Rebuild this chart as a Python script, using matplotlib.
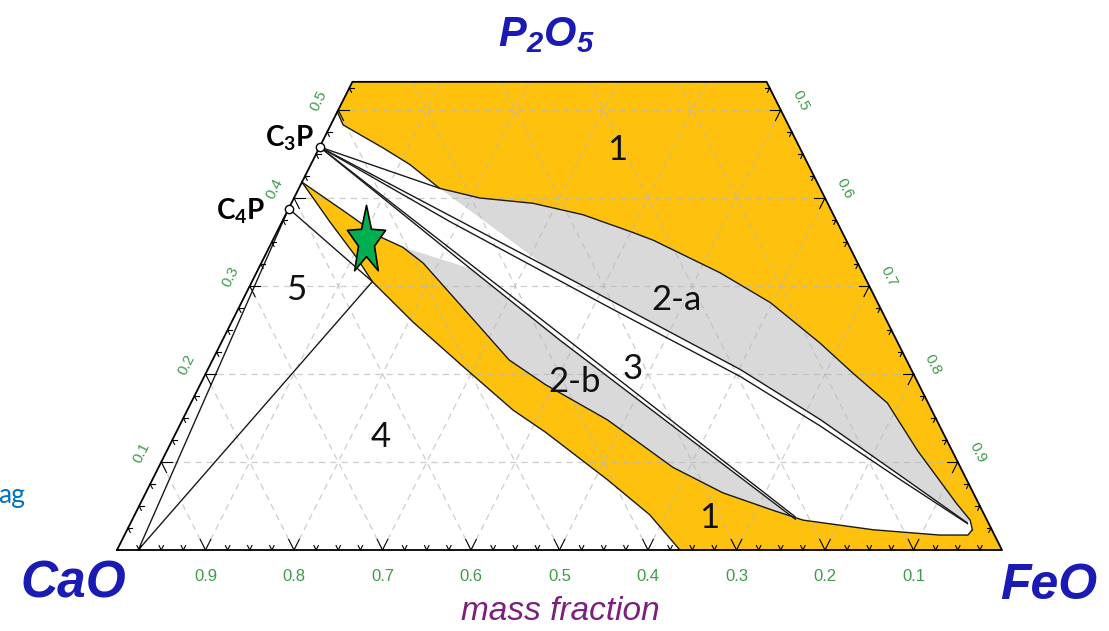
import numpy as np
import matplotlib.pyplot as plt
from matplotlib.path import Path

plt.rcParams['mathtext.fontset'] = 'custom'
plt.rcParams['mathtext.bf'] = 'Lato:bold'
plt.rcParams['mathtext.bfit'] = 'Liberation Sans:italic:bold'

# compositions as mass fractions (FeO, P2O5); CaO = 1 - FeO - P2O5
p2o5_top = 0.532

c3p = (0.0, 0.458)
c4p = (0.0, 0.388)
cao_ss = (0.024, 0.0)
k_point = (0.136, 0.305)
star_pt = (0.106, 0.351)

# liquid (region 1) boundary, upper part
liq_upper = [(0.0, 0.498), (0.014, 0.483), (0.072, 0.457), (0.112, 0.438), (0.159, 0.411),
             (0.210, 0.400), (0.273, 0.394), (0.336, 0.381), (0.402, 0.361), (0.430, 0.352),
             (0.524, 0.315), (0.598, 0.281), (0.677, 0.235), (0.731, 0.201), (0.787, 0.167),
             (0.848, 0.113), (0.922, 0.053), (0.947, 0.034), (0.955, 0.023)]
# liquid boundary, lower part (from the tip back to the CaO-P2O5 side)
liq_lower = [(0.955, 0.023), (0.953, 0.017), (0.921, 0.017), (0.843, 0.023), (0.758, 0.034),
             (0.719, 0.045), (0.652, 0.065), (0.581, 0.094), (0.480, 0.148), (0.390, 0.188),
             (0.335, 0.216), (0.284, 0.253), (0.183, 0.326), (0.151, 0.344), (0.119, 0.356),
             (0.068, 0.383), (0.0, 0.418)]
# lower edge of the liquid band towards regions 4 / 5
band_lower = [(0.0, 0.418), (0.054, 0.373), (0.105, 0.332), (0.136, 0.305), (0.205, 0.259),
              (0.286, 0.209), (0.368, 0.159), (0.417, 0.134), (0.514, 0.080), (0.582, 0.040),
              (0.636, 0.0)]

# lines fanning out from C3P
tie_1 = [c3p, (0.159, 0.411)]
tie_2 = [c3p, (0.322, 0.323), (0.415, 0.284), (0.602, 0.205), (0.721, 0.148), (0.842, 0.085),
         (0.945, 0.031)]
tie_3 = [c3p, (0.190, 0.373), (0.420, 0.275), (0.606, 0.197), (0.724, 0.141), (0.845, 0.080),
         (0.946, 0.030)]
tie_4 = [c3p, (0.747, 0.038)]
tie_5 = [c3p, (0.239, 0.320), (0.382, 0.238), (0.749, 0.035)]

gray_a_left = [(0.159, 0.411), (0.237, 0.369), (0.322, 0.323)]
gray_b_left = [(0.151, 0.344), (0.239, 0.320)]

ticks_major = [0.1, 0.2, 0.3, 0.4, 0.5, 0.6, 0.7, 0.8, 0.9]

region_labels = [('1', 0.338, 0.455), ('1', 0.651, 0.036), ('2-a', 0.490, 0.284),
                 ('3', 0.480, 0.206), ('2-b', 0.422, 0.191), ('4', 0.234, 0.128),
                 ('5', 0.055, 0.295)]

yellow = '#FEC20E'
gray = '#D9D9D9'
green = '#3F9B4B'
blue = '#1A1AB4'


def xy(points):
    a = np.array(points, float)
    return a[:, 0] + a[:, 1] / 2, a[:, 1]


fig = plt.figure(figsize=(11.09, 6.31), dpi=100)
ax = fig.add_axes([0, 0, 1, 1])
ax.set_xlim(-117 / 885, 992 / 885)
ax.set_ylim(-81 / 880, 550 / 880)
ax.axis('off')

outline = [(0, 0), (1, 0), (1 - p2o5_top, p2o5_top), (0, p2o5_top), (0, 0)]
ax.fill(*xy(outline), color=yellow, lw=0, zorder=1)

left_region = [(0, 0)] + band_lower
ax.fill(*xy(left_region), color='white', lw=0, zorder=2)
central = liq_upper + liq_lower[1:]
ax.fill(*xy(central), color='white', lw=0, zorder=2)

i0 = liq_upper.index((0.159, 0.411))
gray_a = liq_upper[i0:-1] + tie_2[::-1][:-2] + gray_a_left[::-1]
ax.fill(*xy(gray_a), color=gray, lw=0, zorder=3)
j0 = liq_lower.index((0.719, 0.045))
j1 = liq_lower.index((0.151, 0.344))
gray_b = gray_b_left + tie_5[2:] + liq_lower[j0:j1 + 1]
ax.fill(*xy(gray_b), color=gray, lw=0, zorder=3)

# dashed grid
grid_kw = dict(color='#B8B8B8', lw=0.9, ls=(0, (5, 4)), alpha=0.7, zorder=4)
for v in ticks_major:
    if v < p2o5_top:
        ax.plot(*xy([(0, v), (1 - v, v)]), **grid_kw)
    top = min(1 - v, p2o5_top)
    ax.plot(*xy([(v, 0), (v, top)]), **grid_kw)
    s = 1 - v
    top = min(s, p2o5_top)
    ax.plot(*xy([(s, 0), (s - top, top)]), **grid_kw)

# phase boundaries
line_kw = dict(color='#1a1a1a', lw=1.0, zorder=5)
for seg in [liq_upper, liq_lower, band_lower, tie_1, tie_2, tie_3, tie_4, tie_5,
            [c4p, cao_ss], [c4p, k_point], [k_point, cao_ss]]:
    ax.plot(*xy(seg), **line_kw)

ax.plot(*xy(outline), color='k', lw=1.3, zorder=6)

# ticks along the three sides
tick_kw = dict(color='k', lw=0.8, zorder=6)
for k in range(1, 40):
    v = k * 0.025
    L = 0.012 if k % 4 == 0 else 0.005
    for d in [(0, 1), (-1, 1)]:
        ax.plot(*xy([(v, 0), (v + d[0] * L, d[1] * L)]), **tick_kw)
for k in range(1, 22):
    p = k * 0.025
    L = 0.012 if k % 4 == 0 else 0.005
    for d in [(1, 0), (1, -1)]:
        ax.plot(*xy([(0, p), (d[0] * L, p + d[1] * L)]), **tick_kw)
    for d in [(-1, 0), (0, -1)]:
        ax.plot(*xy([(1 - p, p), (1 - p + d[0] * L, p + d[1] * L)]), **tick_kw)

lab_kw = dict(color=green, family='Liberation Sans', zorder=7)
for c in ticks_major:
    x, y = xy([(1 - c, 0)])
    ax.annotate(f'{c:.1f}', (x[0], y[0]), xytext=(0, -19), textcoords='offset points',
                ha='center', va='center', fontsize=12, **lab_kw)
for p in ticks_major[:5]:
    x, y = xy([(0, p)])
    ax.annotate(f'{p:.1f}', (x[0], y[0]), xytext=(-14, 7), textcoords='offset points',
                ha='center', va='center', fontsize=11, rotation=63.3, **lab_kw)
    x, y = xy([(1 - p, p)])
    ax.annotate(f'{1 - p:.1f}', (x[0], y[0]), xytext=(14, 7), textcoords='offset points',
                ha='center', va='center', fontsize=11, rotation=-63.3, **lab_kw)

# compounds and marked composition
ax.plot(*xy([c3p, c4p]), 'o', ms=6, mfc='white', mec='k', mew=1.0, ls='none', zorder=8)
ang = np.pi / 2 + np.arange(10) * np.pi / 5
rad = np.where(np.arange(10) % 2 == 0, 1.0, 0.42)
verts = np.column_stack([rad * np.cos(ang), 1.8 * rad * np.sin(ang)])
star = Path(np.vstack([verts, verts[:1]]), closed=True)
ax.plot(*xy([star_pt]), marker=star, ms=52, mfc='#00B050', mec='k', mew=1.2, ls='none', zorder=9)

for txt, f, p in region_labels:
    x, y = xy([(f, p)])
    ax.text(x[0], y[0], txt, ha='center', va='center', fontsize=25, family='Lato',
            color='#111111', zorder=8)

x, y = xy([c3p])
ax.annotate(r'$\mathbf{C_3P}$', (x[0], y[0]), xytext=(-4, 6), textcoords='offset points',
            ha='right', va='center', fontsize=20, color='k', zorder=8)
x, y = xy([c4p])
ax.annotate(r'$\mathbf{C_4P}$', (x[0], y[0]), xytext=(-17, -2), textcoords='offset points',
            ha='right', va='center', fontsize=20, color='k', zorder=8)

fig.text(546 / 1109, 1 - 34 / 631, r'$\mathbfit{P_2O_5}$', ha='center', va='center',
         fontsize=30, color=blue)
fig.text(73 / 1109, 1 - 584 / 631, 'CaO', ha='center', va='center', fontsize=37,
         family='Liberation Sans', weight='bold', style='italic', color=blue)
fig.text(1049 / 1109, 1 - 586 / 631, 'FeO', ha='center', va='center', fontsize=36,
         family='Liberation Sans', weight='bold', style='italic', color=blue)
fig.text(560 / 1109, 1 - 612 / 631, 'mass fraction', ha='center', va='center', fontsize=24,
         family='Liberation Sans', style='italic', color='#7D1F7F')
fig.text(25 / 1109, 1 - 496 / 631, 'ag', ha='right', va='center', fontsize=19,
         family='Lato', color='#0070C0')

fig.savefig('out.png', dpi=100)
